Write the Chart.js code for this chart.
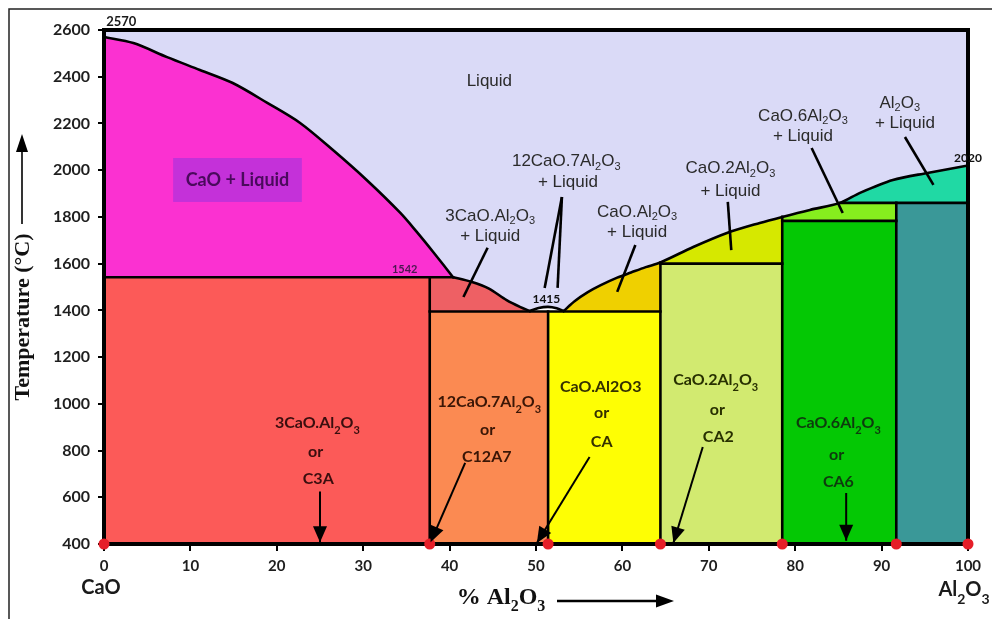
<!DOCTYPE html>
<html>
<head>
<meta charset="utf-8">
<title>CaO–Al2O3 phase diagram</title>
<script src="https://cdn.jsdelivr.net/npm/chart.js@4.4.1/dist/chart.umd.min.js"></script>
<style>
  html, body { margin: 0; padding: 0; background: #fff; }
  #wrap { width: 992px; height: 619px; position: relative; }
  canvas { display: block; }
</style>
</head>
<body>
<div id="wrap"><canvas id="phase" width="992" height="619"></canvas></div>
<script>
// ---- Axes -------------------------------------------------------------
const xTickValues = [0, 10, 20, 30, 40, 50, 60, 70, 80, 90, 100];          // % Al2O3
const yTickValues = [400, 600, 800, 1000, 1200, 1400, 1600, 1800, 2000, 2200, 2400, 2600]; // °C

// ---- Compounds on the composition axis (% Al2O3) ---------------------
const compoundNames = ['CaO', 'C3A', 'C12A7', 'CA', 'CA2', 'CA6', 'Al2O3'];
const compoundPct   = [0, 37.7, 51.4, 64.4, 78.5, 91.7, 100];

// ---- Invariant / solidus temperatures (°C) ---------------------------
const tMeltCaO   = 2570;
const tEutC3A    = 1542;   // CaO + C3A + liquid
const tMeltC12A7 = 1415;
const tSolidLow  = 1395;   // C3A / C12A7 / CA field tops
const tTopCA2    = 1600;
const tTopCA6    = 1783;
const tTopAl2O3  = 1860;
const tMeltAl2O3 = 2020;

// ---- Liquidus branches, [% Al2O3, °C] ---------------------------------
const liqCaO   = [[0, 2570], [3.4, 2544], [7.3, 2484], [11.1, 2429], [14.9, 2373], [18.9, 2288],
                  [22.7, 2202], [26.5, 2086], [30.4, 1958], [34.3, 1817], [36.2, 1736],
                  [38.1, 1650], [40.4, 1542]];
const liqC3A   = [[40.4, 1542], [42.5, 1522], [44.5, 1494], [46.6, 1444], [48.2, 1414], [49.3, 1397]];
const liqC12A7 = [[49.3, 1397], [50.3, 1410], [51.4, 1415], [52.4, 1409], [53.2, 1397]];
const liqCA    = [[53.2, 1397], [54.5, 1440], [56.0, 1478], [57.5, 1508], [59.4, 1540],
                  [61.0, 1562], [62.7, 1585], [64.4, 1605]];
const liqCA2   = [[64.4, 1605], [68.2, 1671], [72.1, 1731], [75.9, 1774], [78.5, 1800]];
const liqCA6   = [[78.5, 1800], [81.7, 1830], [85.2, 1860]];
const liqAl2O3 = [[85.2, 1860], [87.5, 1903], [91.3, 1958], [95.3, 1988], [100, 2020]];

// ---- Leader lines from field names to fields --------------------------
const leaderC3A   = [[44.4, 1668], [41.6, 1457]];
const leaderC12a  = [[53.0, 1885], [51.0, 1496]];
const leaderC12b  = [[53.0, 1885], [52.5, 1496]];
const leaderCA    = [[61.5, 1680], [59.4, 1479]];
const leaderCA2   = [[72.2, 1864], [72.6, 1658]];
const leaderCA6   = [[81.9, 2095], [85.5, 1817]];
const leaderAl2O3 = [[92.7, 2142], [96.0, 1937]];

// ---- Arrows from compound names to compositions ----------------------
const arrowC3A   = [[25.0, 625], [25.0, 407]];
const arrowC12A7 = [[41.8, 747], [37.8, 408]];
const arrowCA    = [[56.2, 772], [50.1, 404]];
const arrowCA2   = [[69.3, 815], [65.9, 404]];
const arrowCA6   = [[85.9, 618], [85.9, 414]];

const colors = {
  liquid: '#dadaf7', caoLiq: '#fb31d1', c3a: '#fc5a58', c3aLiq: '#ee6064',
  c12a7: '#fb8a52', ca: '#fefe04', caLiq: '#efd000', ca2: '#d2ea70', ca2Liq: '#d6e800',
  ca6: '#04c804', ca6Liq: '#86ee1e', al2o3: '#3a9898', al2o3Liq: '#20d9a4'
};

// ---- Helpers ----------------------------------------------------------
const toPts = arr => arr.map(([x, y]) => ({ x, y }));
const ring = arr => { const p = toPts(arr); return p.concat([p[0]]); };
const last = a => a[a.length - 1];
const [xCaO, xC3A, xC12A7, xCA, xCA2, xCA6, xAl] = compoundPct;
const liquidus = [...liqCaO, ...liqC3A.slice(1), ...liqC12A7.slice(1), ...liqCA.slice(1),
                  ...liqCA2.slice(1), ...liqCA6.slice(1), ...liqAl2O3.slice(1)];
const T_MIN = yTickValues[0], T_MAX = last(yTickValues);

// Phase fields as closed polygons
const regions = [
  { c: colors.liquid,   r: [[xCaO, T_MAX], [xAl, T_MAX], ...liquidus.slice().reverse()] },
  { c: colors.caoLiq,   r: [[xCaO, tEutC3A], ...liqCaO] },
  { c: colors.c3a,      r: [[xCaO, T_MIN], [xC3A, T_MIN], [xC3A, tEutC3A], [xCaO, tEutC3A]] },
  { c: colors.c3aLiq,   r: [[xC3A, tSolidLow], [xC3A, tEutC3A], ...liqC3A, [last(liqC3A)[0], tSolidLow]] },
  { c: colors.c12a7,    r: [[xC3A, T_MIN], [xC12A7, T_MIN], [xC12A7, tSolidLow], [xC3A, tSolidLow]] },
  { c: colors.ca,       r: [[xC12A7, T_MIN], [xCA, T_MIN], [xCA, tSolidLow], [xC12A7, tSolidLow]] },
  { c: colors.caLiq,    r: [[liqCA[0][0], tSolidLow], ...liqCA, [xCA, tSolidLow]] },
  { c: colors.ca2,      r: [[xCA, T_MIN], [xCA2, T_MIN], [xCA2, tTopCA2], [xCA, tTopCA2]] },
  { c: colors.ca2Liq,   r: [[xCA, tTopCA2], ...liqCA2, [xCA2, tTopCA2]] },
  { c: colors.ca6,      r: [[xCA2, T_MIN], [xCA6, T_MIN], [xCA6, tTopCA6], [xCA2, tTopCA6]] },
  { c: colors.ca6Liq,   r: [[xCA2, tTopCA6], ...liqCA6, [xCA6, tTopAl2O3], [xCA6, tTopCA6]] },
  { c: colors.al2o3,    r: [[xCA6, T_MIN], [xAl, T_MIN], [xAl, tTopAl2O3], [xCA6, tTopAl2O3]] },
  { c: colors.al2o3Liq, r: [[liqAl2O3[0][0], tTopAl2O3], ...liqAl2O3, [xAl, tTopAl2O3]] }
];

// Straight phase boundaries (solidus lines and compound verticals)
const straightBounds = [
  [[xC3A, T_MIN], [xC3A, tEutC3A]],
  [[xC12A7, T_MIN], [xC12A7, tSolidLow]],
  [[xCA, T_MIN], [xCA, liqCA2[0][1]]],
  [[xCA2, T_MIN], [xCA2, liqCA6[0][1]]],
  [[xCA6, T_MIN], [xCA6, tTopAl2O3]],
  [[xCaO, tEutC3A], liqC3A[0]],
  [[xC3A, tSolidLow], [xCA, tSolidLow]],
  [[xCA, tTopCA2], [xCA2, tTopCA2]],
  [[xCA2, tTopCA6], [xCA6, tTopCA6]],
  [liqAl2O3[0], [xAl, tTopAl2O3]]
];
// Liquidus drawn as smooth branches, broken at the eutectics
const curvedBounds = [liqCaO, liqC3A, liqC12A7, [...liqCA, ...liqCA2.slice(1), ...liqCA6.slice(1), ...liqAl2O3.slice(1)]];

const datasets = [];
regions.forEach((g, i) => datasets.push({
  data: ring(g.r), showLine: true, fill: 'shape', backgroundColor: g.c,
  borderColor: g.c, borderWidth: 0.5,
  pointRadius: 0, pointHoverRadius: 0, tension: 0, order: i === 0 ? 20 : 10
}));
straightBounds.forEach(b => datasets.push({
  data: toPts(b), showLine: true, fill: false, borderColor: '#000', borderWidth: 2.6,
  borderCapStyle: 'square', pointRadius: 0, pointHoverRadius: 0, order: 6
}));
curvedBounds.forEach(b => datasets.push({
  data: toPts(b), showLine: true, fill: false, borderColor: '#000', borderWidth: 2.6,
  tension: 0.3, borderCapStyle: 'round', borderJoinStyle: 'round',
  pointRadius: 0, pointHoverRadius: 0, order: 6
}));
[leaderC3A, leaderC12a, leaderC12b, leaderCA, leaderCA2, leaderCA6, leaderAl2O3].forEach(l => datasets.push({
  data: toPts(l), showLine: true, fill: false, borderColor: '#000', borderWidth: 2.6,
  pointRadius: 0, pointHoverRadius: 0, order: 5
}));
[arrowC3A, arrowC12A7, arrowCA, arrowCA2, arrowCA6].forEach(a => datasets.push({
  data: toPts(a), showLine: true, fill: false, borderColor: '#000', borderWidth: 2,
  pointRadius: 0, pointHoverRadius: 0, order: 4, arrowHead: true
}));
const dotIndex = datasets.length;
datasets.push({
  data: compoundPct.map(x => ({ x, y: T_MIN })), showLine: false,
  pointRadius: 5.5, pointBackgroundColor: '#e61e28', pointBorderWidth: 0,
  pointHoverRadius: 5.5, clip: false, order: -1
});

// ---- Text annotations (data coordinates) ------------------------------
const fieldLabels = [
  ['Liquid', 44.6, 2382],
  ['12CaO.7Al_2O_3', 53.5, 2039], ['+ Liquid', 53.7, 1949],
  ['3CaO.Al_2O_3', 44.7, 1804], ['+ Liquid', 44.7, 1718],
  ['CaO.Al_2O_3', 61.7, 1821], ['+ Liquid', 61.7, 1735],
  ['CaO.2Al_2O_3', 72.5, 2009], ['+ Liquid', 72.5, 1911],
  ['CaO.6Al_2O_3', 80.9, 2232], ['+ Liquid', 80.9, 2146],
  ['Al_2O_3', 92.1, 2288], ['+ Liquid', 92.7, 2202]
];
const compoundLabels = [
  ['3CaO.Al_2O_3', 24.7, 918, '#3a0e0e'], ['or', 24.5, 794, '#3a0e0e'], ['C3A', 24.8, 678, '#3a0e0e'],
  ['12CaO.7Al_2O_3', 44.6, 1008, '#3a1606'], ['or', 44.4, 888, '#3a1606'], ['C12A7', 44.3, 772, '#3a1606'],
  ['CaO.Al2O3', 57.5, 1072, '#343000'], ['or', 57.6, 961, '#343000'], ['CA', 57.6, 837, '#343000'],
  ['CaO.2Al_2O_3', 70.8, 1102, '#283000'], ['or', 71.0, 974, '#283000'], ['CA2', 71.1, 858, '#283000'],
  ['CaO.6Al_2O_3', 85.0, 918, '#0e3a0e'], ['or', 84.8, 781, '#0e3a0e'], ['CA6', 85.0, 665, '#0e3a0e']
];
const pointLabels = [
  [String(tEutC3A), 34.8, 1577, 11, '#4a1850'],
  [String(tMeltC12A7), 51.2, 1449, 12, '#111'],
  [String(tMeltAl2O3), 100, 2052, 12, '#111']
];
const caoLiqBox = { x0: 8.0, x1: 22.9, y0: 1864, y1: 2052, text: 'CaO + Liquid' };

// Text with "_n" subscripts, centred on (cx, cy)
function richText(ctx, text, cx, cy, family, size, weight, color, subScale = 0.66, subDrop = 0.32) {
  const parts = [];
  for (let i = 0; i < text.length; i++) {
    if (text[i] === '_' && i + 1 < text.length) { parts.push({ s: text[i + 1], sub: true }); i++; }
    else {
      if (parts.length && !parts[parts.length - 1].sub) parts[parts.length - 1].s += text[i];
      else parts.push({ s: text[i], sub: false });
    }
  }
  const fNorm = `${weight} ${size}px ${family}`;
  const fSub = `${weight} ${Math.round(size * subScale)}px ${family}`;
  let w = 0;
  parts.forEach(p => { ctx.font = p.sub ? fSub : fNorm; p.w = ctx.measureText(p.s).width; w += p.w; });
  let x = cx - w / 2;
  ctx.fillStyle = color;
  ctx.textBaseline = 'middle';
  ctx.textAlign = 'left';
  parts.forEach(p => {
    ctx.font = p.sub ? fSub : fNorm;
    ctx.fillText(p.s, x, p.sub ? cy + size * subDrop : cy);
    x += p.w;
  });
}

function arrowHead(ctx, fromX, fromY, toX, toY, len, half) {
  const a = Math.atan2(toY - fromY, toX - fromX);
  ctx.save();
  ctx.translate(toX, toY);
  ctx.rotate(a);
  ctx.beginPath();
  ctx.moveTo(0, 0); ctx.lineTo(-len, -half); ctx.lineTo(-len, half); ctx.closePath();
  ctx.fillStyle = '#000';
  ctx.fill();
  ctx.restore();
}

const decorPlugin = {
  id: 'decor',
  beforeDraw(chart) {
    const ctx = chart.ctx;
    ctx.save();
    ctx.fillStyle = '#fff';
    ctx.fillRect(0, 0, chart.width, chart.height);
    // outer figure frame
    ctx.strokeStyle = '#222';
    ctx.lineWidth = 1.5;
    ctx.beginPath();
    ctx.moveTo(9, chart.height); ctx.lineTo(9, 9); ctx.lineTo(chart.width, 9);
    ctx.stroke();
    ctx.restore();
  },
  beforeDatasetsDraw(chart) {
    const ctx = chart.ctx, xs = chart.scales.x, ys = chart.scales.y;
    ctx.save();
    richText(ctx, String(tMeltCaO), xs.getPixelForValue(2.0), ys.getPixelForValue(2634), 'Lato', 13, 'bold', '#1a1a1a');
    ctx.restore();
  },
  beforeDatasetDraw(chart, args) {
    if (args.index !== dotIndex) return;
    const ctx = chart.ctx, a = chart.chartArea;
    ctx.save();
    ctx.strokeStyle = '#000';
    ctx.lineWidth = 4;
    ctx.strokeRect(a.left, a.top, a.right - a.left, a.bottom - a.top);
    ctx.restore();
  },
  afterDatasetsDraw(chart) {
    const ctx = chart.ctx, xs = chart.scales.x, ys = chart.scales.y;
    const px = v => xs.getPixelForValue(v), py = v => ys.getPixelForValue(v);
    ctx.save();
    // arrow heads
    chart.data.datasets.forEach((ds, i) => {
      if (!ds.arrowHead) return;
      const pts = chart.getDatasetMeta(i).data;
      const a = pts[pts.length - 2], b = pts[pts.length - 1];
      arrowHead(ctx, a.x, a.y, b.x, b.y, 16, 7);
    });
    // CaO + Liquid tag
    ctx.fillStyle = '#c431d9';
    ctx.fillRect(px(caoLiqBox.x0), py(caoLiqBox.y1), px(caoLiqBox.x1) - px(caoLiqBox.x0), py(caoLiqBox.y0) - py(caoLiqBox.y1));
    richText(ctx, caoLiqBox.text, (px(caoLiqBox.x0) + px(caoLiqBox.x1)) / 2, (py(caoLiqBox.y0) + py(caoLiqBox.y1)) / 2,
             'Lato', 18, 'bold', '#4a0a5c');
    fieldLabels.forEach(([t, x, y]) => richText(ctx, t, px(x), py(y), '"Liberation Sans", Arial', 17, 'normal', '#2b2b2b'));
    compoundLabels.forEach(([t, x, y, c]) => richText(ctx, t, px(x), py(y), 'Lato', 16, 'bold', c, 0.7, 0.45));
    pointLabels.forEach(([t, x, y, s, c]) => richText(ctx, t, px(x), py(y), 'Lato', s, 'bold', c));
    ctx.restore();
  },
  afterDraw(chart) {
    const ctx = chart.ctx, a = chart.chartArea;
    ctx.save();
    // y-axis title with upward arrow
    ctx.translate(23, 317);
    ctx.rotate(-Math.PI / 2);
    richText(ctx, 'Temperature (°C)', 0, 0, '"Liberation Serif", "Times New Roman", serif', 22, 'bold', '#111');
    ctx.restore();
    ctx.save();
    ctx.strokeStyle = '#000'; ctx.lineWidth = 1.6;
    ctx.beginPath(); ctx.moveTo(22, 224); ctx.lineTo(22, 150); ctx.stroke();
    arrowHead(ctx, 22, 224, 22, 134, 18, 6);
    // x-axis title with right arrow
    richText(ctx, '% Al_2O_3', 501, 598, '"Liberation Serif", "Times New Roman", serif', 24, 'bold', '#111', 0.66, 0.38);
    ctx.beginPath(); ctx.lineWidth = 2.6; ctx.moveTo(557, 601); ctx.lineTo(658, 601); ctx.stroke();
    arrowHead(ctx, 557, 601, 674, 601, 18, 6.5);
    // end-member names under the axis
    richText(ctx, compoundNames[0], a.left - 3, 588, 'Lato', 20, 'bold', '#1a1a1a');
    richText(ctx, 'Al_2O_3', a.right - 4, 590, 'Lato', 20, 'bold', '#1a1a1a', 0.7, 0.45);
    ctx.restore();
  }
};

const tickFont = size => ({ family: 'Lato', weight: 'bold', size });

new Chart(document.getElementById('phase'), {
  type: 'scatter',
  data: { datasets },
  options: {
    responsive: false,
    animation: false,
    events: [],
    layout: { padding: { top: 30, right: 24, bottom: 0, left: 0 } },
    plugins: { legend: { display: false }, tooltip: { enabled: false } },
    scales: {
      x: {
        type: 'linear', min: xTickValues[0], max: last(xTickValues),
        afterBuildTicks: s => { s.ticks = xTickValues.map(v => ({ value: v })); },
        afterFit: s => { s.height = 75; },
        ticks: { font: tickFont(15), color: '#1e1e1e', padding: 6, maxRotation: 0, autoSkip: false,
                 callback: v => String(v) },
        grid: { drawOnChartArea: false, drawTicks: true, tickLength: 7, color: '#000', lineWidth: 2 },
        border: { display: false }
      },
      y: {
        type: 'linear', min: T_MIN, max: T_MAX,
        afterBuildTicks: s => { s.ticks = yTickValues.map(v => ({ value: v })); },
        afterFit: s => { s.width = 104; },
        ticks: { font: tickFont(16), color: '#1e1e1e', padding: 8, autoSkip: false,
                 callback: v => String(v) },
        grid: { drawOnChartArea: false, drawTicks: true, tickLength: 6, color: '#000', lineWidth: 2 },
        border: { display: false }
      }
    }
  },
  plugins: [decorPlugin]
});
</script>
</body>
</html>
